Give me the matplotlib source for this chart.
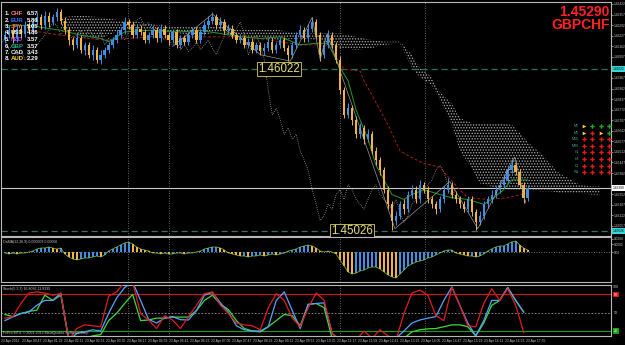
import matplotlib
matplotlib.use("Agg")
import matplotlib.pyplot as plt
import numpy as np

# ---- GBPCHF candles (one entry per bar) ----
first_open = 1.4620
closes = [1.4623, 1.4626, 1.4621, 1.4627, 1.4624, 1.4629, 1.4626, 1.4631, 1.4634, 1.4629,
          1.4635, 1.4631, 1.4634, 1.4637, 1.4632, 1.4626, 1.4620, 1.4617, 1.4621, 1.4614,
          1.4617, 1.4611, 1.4614, 1.4608, 1.4611, 1.4614, 1.4617, 1.4620, 1.4623, 1.4626,
          1.4631, 1.4629, 1.4623, 1.4627, 1.4625, 1.4620, 1.4623, 1.4626, 1.4621, 1.4627,
          1.4623, 1.4620, 1.4625, 1.4617, 1.4621, 1.4619, 1.4623, 1.4626, 1.4620, 1.4625,
          1.4629, 1.4632, 1.4634, 1.4629, 1.4631, 1.4626, 1.4627, 1.4623, 1.4620, 1.4621,
          1.4617, 1.4619, 1.4614, 1.4617, 1.4613, 1.4615, 1.4619, 1.4614, 1.4617, 1.4620,
          1.4615, 1.4611, 1.4617, 1.4623, 1.4626, 1.4621, 1.4627, 1.4631, 1.4623, 1.4611,
          1.4617, 1.4623, 1.4617, 1.4608, 1.4589, 1.4574, 1.4578, 1.4571, 1.4562, 1.4566,
          1.4559, 1.4562, 1.4552, 1.4546, 1.4540, 1.4528, 1.4519, 1.4509, 1.4512, 1.4519,
          1.4516, 1.4525, 1.4528, 1.4522, 1.4531, 1.4528, 1.4522, 1.4519, 1.4516, 1.4522,
          1.4528, 1.4531, 1.4525, 1.4522, 1.4519, 1.4516, 1.4522, 1.4514, 1.4508, 1.4512,
          1.4519, 1.4522, 1.4525, 1.4528, 1.4531, 1.4534, 1.4540, 1.4543, 1.4539, 1.4531,
          1.4523, 1.4529]
highs = [1.4626, 1.4629, 1.4628, 1.4630, 1.4629, 1.4632, 1.4631, 1.4633, 1.4637, 1.4636,
         1.4638, 1.4637, 1.4636, 1.4640, 1.4639, 1.4634, 1.4628, 1.4622, 1.4624, 1.4623,
         1.4619, 1.4619, 1.4617, 1.4616, 1.4614, 1.4616, 1.4619, 1.4622, 1.4626, 1.4628,
         1.4634, 1.4633, 1.4631, 1.4629, 1.4629, 1.4627, 1.4625, 1.4629, 1.4628, 1.4630,
         1.4629, 1.4625, 1.4627, 1.4627, 1.4623, 1.4623, 1.4625, 1.4628, 1.4628, 1.4627,
         1.4632, 1.4635, 1.4637, 1.4636, 1.4634, 1.4633, 1.4630, 1.4629, 1.4625, 1.4624,
         1.4623, 1.4621, 1.4621, 1.4619, 1.4619, 1.4618, 1.4621, 1.4621, 1.4619, 1.4622,
         1.4622, 1.4617, 1.4619, 1.4625, 1.4629, 1.4628, 1.4630, 1.4634, 1.4633, 1.4625,
         1.4620, 1.4626, 1.4625, 1.4619, 1.4610, 1.4591, 1.4581, 1.4580, 1.4573, 1.4569,
         1.4568, 1.4565, 1.4564, 1.4554, 1.4548, 1.4542, 1.4530, 1.4521, 1.4515, 1.4521,
         1.4522, 1.4527, 1.4531, 1.4530, 1.4534, 1.4533, 1.4530, 1.4524, 1.4521, 1.4524,
         1.4530, 1.4535, 1.4533, 1.4527, 1.4524, 1.4521, 1.4524, 1.4524, 1.4516, 1.4515,
         1.4521, 1.4524, 1.4528, 1.4530, 1.4534, 1.4537, 1.4543, 1.4547, 1.4545, 1.4541,
         1.4533, 1.4531]
lows = [1.4618, 1.4621, 1.4618, 1.4619, 1.4621, 1.4622, 1.4624, 1.4624, 1.4629, 1.4627,
        1.4627, 1.4628, 1.4629, 1.4632, 1.4630, 1.4624, 1.4617, 1.4614, 1.4615, 1.4612,
        1.4611, 1.4609, 1.4608, 1.4606, 1.4605, 1.4609, 1.4612, 1.4615, 1.4618, 1.4621,
        1.4624, 1.4627, 1.4621, 1.4621, 1.4623, 1.4618, 1.4618, 1.4621, 1.4619, 1.4619,
        1.4621, 1.4617, 1.4618, 1.4615, 1.4615, 1.4617, 1.4617, 1.4621, 1.4618, 1.4618,
        1.4623, 1.4627, 1.4630, 1.4627, 1.4627, 1.4624, 1.4624, 1.4621, 1.4618, 1.4618,
        1.4615, 1.4615, 1.4612, 1.4612, 1.4611, 1.4611, 1.4613, 1.4612, 1.4612, 1.4615,
        1.4613, 1.4607, 1.4609, 1.4615, 1.4621, 1.4619, 1.4619, 1.4625, 1.4621, 1.4607,
        1.4609, 1.4615, 1.4615, 1.4606, 1.4587, 1.4572, 1.4572, 1.4568, 1.4560, 1.4560,
        1.4556, 1.4557, 1.4550, 1.4543, 1.4537, 1.4526, 1.4516, 1.4503, 1.4506, 1.4510,
        1.4513, 1.4514, 1.4523, 1.4520, 1.4520, 1.4526, 1.4520, 1.4517, 1.4513, 1.4514,
        1.4520, 1.4526, 1.4523, 1.4520, 1.4517, 1.4514, 1.4514, 1.4512, 1.4503, 1.4506,
        1.4510, 1.4517, 1.4520, 1.4523, 1.4526, 1.4529, 1.4532, 1.4538, 1.4537, 1.4529,
        1.4520, 1.4521]

# ---- Ichimoku-style lines (bar index, price) ----
cloud_bars = [14, 19, 24, 29, 34, 39, 44, 49, 54, 59, 64, 69, 74, 79, 84, 88, 92, 95, 99,
              102, 104, 107, 109, 112, 114, 117, 119, 123, 127, 129, 132, 134, 137, 139,
              142, 144, 147, 149]
cloud_top = [1.4634, 1.4635, 1.4634, 1.4632, 1.4631, 1.4629, 1.4628, 1.4628, 1.4629, 1.4626,
             1.4627, 1.4626, 1.4624, 1.4624, 1.4624, 1.4622, 1.4620, 1.4619, 1.4619, 1.4611,
             1.4603, 1.4597, 1.4588, 1.4581, 1.4572, 1.4569, 1.4569, 1.4569, 1.4568, 1.4563,
             1.4555, 1.4551, 1.4543, 1.4538, 1.4534, 1.4531, 1.4530, 1.4530]
cloud_bot = [1.4627, 1.4623, 1.4621, 1.4626, 1.4627, 1.4625, 1.4624, 1.4623, 1.4625, 1.4622,
             1.4621, 1.4620, 1.4621, 1.4620, 1.4615, 1.4614, 1.4615, 1.4617, 1.4618, 1.4603,
             1.4597, 1.4592, 1.4583, 1.4568, 1.4552, 1.4541, 1.4532, 1.4529, 1.4528, 1.4528,
             1.4528, 1.4527, 1.4527, 1.4526, 1.4526, 1.4526, 1.4525, 1.4525]
green_bars = [0, 6, 14, 19, 24, 26, 30, 36, 44, 49, 54, 59, 64, 69, 74, 78, 81, 84, 86, 88,
              91, 93, 95, 97, 100, 102, 105, 109, 112, 116, 120, 122, 125, 127, 131]
green_line = [1.4629, 1.4629, 1.4626, 1.4623, 1.4621, 1.4619, 1.4625, 1.4626, 1.4625, 1.4626,
              1.4624, 1.4622, 1.4621, 1.4622, 1.4617, 1.4618, 1.4618, 1.4603, 1.4595, 1.4577,
              1.4559, 1.4543, 1.4534, 1.4525, 1.4522, 1.4525, 1.4528, 1.4525, 1.4523, 1.4522,
              1.4519, 1.4522, 1.4528, 1.4534, 1.4534]
red_bars = [6, 14, 21, 26, 36, 49, 61, 74, 81, 85, 89, 90, 94, 96, 99, 101, 105, 109, 111,
            114, 116, 121, 126, 131]
red_line = [1.4626, 1.4623, 1.4621, 1.4620, 1.4622, 1.4622, 1.4622, 1.4617, 1.4617, 1.4602,
            1.4601, 1.4595, 1.4577, 1.4568, 1.4552, 1.4549, 1.4544, 1.4542, 1.4536, 1.4528,
            1.4523, 1.4522, 1.4523, 1.4526]
chikou_shift = 18
zz_bars = [42, 52, 64, 71.5, 77, 79, 80.75, 97.75, 111.5, 118.5, 127.75, 130.5]
zz_price = [1.4616, 1.4636, 1.4611, 1.4607, 1.4634, 1.4608,
            1.4624, 1.4504, 1.4533, 1.4504, 1.4548, 1.4520]
level_hi, level_lo, last_price = 1.46022, 1.45026, 1.45290
separators = [30.75, 41, 84, 105.25]

# ---- OsMA histogram, in points (1e-5) ----
osma_pts = [-3, -6, -3, -6, -3, -3, 0, 3,
            9, 12, 12, 15, 12, 9, 12,
            -6, -15, -21, -24, -21, -18, -18, -15, -12, -15, -9,
            3, 9, 15, 21, 27, 30, 24, 15, 9, 6, 3,
            -3, -3, -6, -3, -6, -6, -3, -3, -6, -3, -3, 0, 3,
            9, 12, 15, 15, 12, 6,
            -3, -6, -9, -12, -12, -15, -12, -12, -9, -12, -9, -6, -9, -6, -3,
            3, 6, 9, 15, 18, 21, 18, 12,
            3, 0, 3, 0, -6,
            -24, -42, -60, -66, -63, -57, -54, -48, -45, -45, -51, -60, -69, -75, -78,
            -66, -54, -42, -36, -30, -27, -24, -18, -15, -9,
            -3, 3, 6, 6,
            -3, -6, -9, -12, -12, -15, -12, -6,
            3, 9, 15, 18, 18, 24, 30, 33, 21, 12, 6]

# ---- Stochastic, sampled every second bar ----
stoch_red = [41, 43.5, 65, 82, 84, 82, 78.5, 81, 5, 24, 30, 28.5, 27, 77, 84, 100, 100, 48.5,
             38, 24, 45, 38, 24, 43.5, 62, 81, 84, 62, 48.5, 33, 30, 28.5, 22, 58, 81, 70,
             41, 27, 58, 82, 70, 16, 5, 8, 5, 20, 8, 22, 12, 5, 48.5, 82, 87, 78.5, 45, 37,
             91, 62, 28.5, 27, 65, 89, 70, 89, 62, 18]
stoch_blue = [37, 43, 48.5, 51, 62, 70, 70, 82, 5, 16, 18.5, 22, 20, 49, 74, 91, 100, 70,
              39, 33, 41, 43.5, 38.5, 38, 53.5, 78.5, 83, 66, 51, 28.5, 22, 20, 20, 27, 70,
              84, 53.5, 24, 63.5, 65, 66, 16, 5, 5, 5, 5, 5, 5, 5, 8, 20, 33, 38, 41, 43.5,
              70, 92, 62, 33, 12, 37, 70, 70, 91, 70, 51]
stoch_green = [47, 43.5, 48.5, 52, 54, 78.5, 70, 78.5, 5, 8, 8, 12, 14, 37, 49, 65, 80, 37,
               38, 41, 41, 42.7, 42.7, 42.7, 53.5, 70, 78.5, 63.5, 55, 37, 24, 20, 18.5, 27,
               37, 47, 45, 28.5, 63.5, 65, 58, 8, 5, 5, 5, 5, 5, 5, 5, 5, 8, 18.5, 22, 23.5,
               24, 27, 30, 30, 27, 12, 33, 62, 70, 91, 70, 51]

# ---- texts ----
strength_rank = ["CHF", "EUR", "JPY", "USD", "NZD", "GBP", "CAD", "AUD"]
strength_vals = ["6.57", "5.86", "5.05", "4.86", "3.57", "3.57", "3.43", "2.29"]
strength_cols = ["#ff7a7a", "#3f6fff", "#ff6a2a", "#e8e8e8", "#b050ff", "#1fa884", "#e8e8e8", "#ffd23a"]
time_labels = ["23 Apr 2012", "23 Apr 00:47", "23 Apr 01:29", "23 Apr 02:11", "23 Apr 02:53",
               "23 Apr 03:35", "23 Apr 04:17", "23 Apr 04:59", "23 Apr 05:41", "23 Apr 06:23",
               "23 Apr 07:05", "23 Apr 07:47", "23 Apr 08:29", "23 Apr 09:11", "23 Apr 09:53",
               "23 Apr 10:35", "23 Apr 11:17", "23 Apr 11:59", "23 Apr 12:41", "23 Apr 13:23",
               "23 Apr 14:05", "23 Apr 14:47", "23 Apr 15:29", "23 Apr 16:11", "23 Apr 16:53",
               "23 Apr 17:35"]
tf_labels = ["M1", "M5", "M15", "M30", "H1", "H4", "D1", "W1"]
# 0 = red down, 1 = green up, 2 = yellow flat
tf_signals = [[2, 1, 1, 1],
              [2, 0, 2, 1],
              [0, 0, 0, 0],
              [0, 0, 0, 0],
              [0, 0, 0, 0],
              [0, 0, 0, 0],
              [0, 0, 0, 0],
              [0, 0, 0, 0]]

UP = "#3d8fe6"
DOWN = "#f2b441"
FRAME = "#b8b8b8"
W, H = 625, 345
PMAX, PMIN = 1.46434, 1.44995

plt.rcParams["font.family"] = ["Liberation Sans", "DejaVu Sans"]
plt.rcParams["hatch.linewidth"] = 0.6
plt.rcParams["hatch.color"] = "#b4b4b4"

fig = plt.figure(figsize=(W / 100, H / 100), dpi=100, facecolor="black")


def px_axes(top, bottom):
    a = fig.add_axes([0.0015, (H - bottom) / H, 610.5 / W, (bottom - top) / H])
    a.set_facecolor("black")
    for s in a.spines.values():
        s.set_color(FRAME)
        s.set_linewidth(0.8)
    a.set_xlim(-1, 152)
    a.set_xticks([])
    a.yaxis.tick_right()
    a.tick_params(axis="y", colors="#c8c8c8", labelsize=2.3, length=1.2, width=0.5, pad=0.4)
    for b in separators:
        a.axvline(b, color="#8a8a8a", ls=(0, (1, 2)), lw=0.6, zorder=1)
    return a


# ===== main price panel =====
ax = px_axes(2, 236)
ax.set_ylim(PMIN, PMAX)
yt = np.arange(1.45057, 1.4643, 0.00065)
yt = yt[(np.abs(yt - level_hi) > 0.0003) & (np.abs(yt - level_lo) > 0.0003)
        & (np.abs(yt - last_price) > 0.0003)]
ax.set_yticks(yt)
ax.set_yticklabels([f"{v:.5f}" for v in yt])

o = np.array([first_open] + closes[:-1])
c = np.array(closes)
idx = np.arange(len(c))
col = np.where(c >= o, UP, DOWN)

ax.fill_between(cloud_bars, cloud_top, cloud_bot, facecolor="none", edgecolor="#b4b4b4",
                hatch="......", lw=0, zorder=1)
ax.plot(idx - chikou_shift, c, color="#9c9c9c", ls=(0, (1, 1.5)), lw=0.6, zorder=2)
ax.plot(red_bars, red_line, color="#a31c1c", ls=(0, (3, 2)), lw=0.7, zorder=3)
ax.plot(green_bars, green_line, color="#239a23", lw=0.7, zorder=3)

ax.vlines(idx, lows, highs, colors=col, lw=0.7, zorder=4)
ax.bar(idx, np.maximum(np.abs(c - o), 0.00004), bottom=np.minimum(o, c), width=0.6,
       color=col, lw=0, zorder=5)
ax.plot(zz_bars, zz_price, color="#a8a8a8", lw=0.45, zorder=6)

for lv in (level_hi, level_lo):
    ax.axhline(lv, color="#2f7262", ls=(0, (5, 3)), lw=0.9, zorder=2)
ax.axhline(last_price, color="#c8c8c8", lw=0.8, zorder=2)
ax.text(63.5, level_hi, f"{level_hi:.5f}", color="#e6e07a", fontsize=8.3, va="center",
        ha="left", zorder=8, bbox=dict(facecolor="black", edgecolor="#bdb34a", pad=0.8, lw=0.7))
ax.text(81.8, level_lo, f"{level_lo:.5f}", color="#e6e07a", fontsize=8.3, va="center",
        ha="left", zorder=8, bbox=dict(facecolor="black", edgecolor="#bdb34a", pad=0.8, lw=0.7))

# ===== OsMA panel =====
ax2 = px_axes(237, 282)
ax2.set_ylim(-90, 45)
h = np.array(osma_pts)
prev = np.concatenate([[h[0]], h[:-1]])
ax2.bar(idx, h, width=0.5, color=np.where(h >= prev, UP, DOWN), lw=0, zorder=3)
ax2.plot(idx, h, color="#8fc43a", lw=0.5, zorder=4)
ax2.axhline(0, color="#9a9a9a", ls=(0, (1, 2)), lw=0.6, zorder=2)
ax2.set_yticks([40, 24, 0])
ax2.set_yticklabels(["0.0004", "0.0002", "0.00"])

# ===== Stochastic panel =====
ax3 = px_axes(285, 336)
ax3.set_ylim(11.8, 95.2)
sx = np.arange(0, len(c), 2)
ax3.axhline(80, color="#d01818", lw=0.8, zorder=2)
ax3.axhline(20, color="#18a018", lw=0.8, zorder=2)
ax3.axhline(50, color="#9a9a9a", ls=(0, (2, 2)), lw=0.6, zorder=2)
ax3.plot(sx, stoch_green, color="#3ddc3d", lw=0.9, zorder=3)
ax3.plot(sx, stoch_blue, color="#5aa0ff", lw=0.9, zorder=4)
ax3.plot(sx, stoch_red, color="#e01c1c", lw=0.9, zorder=5)
ax3.set_yticks([])

# ===== overlay with pixel coordinates for texts =====
ov = fig.add_axes([0, 0, 1, 1])
ov.set_xlim(0, W)
ov.set_ylim(H, 0)
ov.axis("off")
ov.patch.set_alpha(0)

for i, (cur, val, cc) in enumerate(zip(strength_rank, strength_vals, strength_cols)):
    y = 13.5 + 6.5 * i
    ov.text(5, y, f"{i + 1}.", color="white", fontsize=4.3, weight="bold", va="center")
    ov.text(11, y, cur, color=cc, fontsize=4.3, weight="bold", va="center")
    ov.text(27, y, val, color="white", fontsize=4.3, weight="bold", va="center")

ov.text(610, 12, f"{last_price:.5f}", color="#ff2222", fontsize=10, weight="bold",
        ha="right", va="center")
ov.text(610, 25, "GBPCHF", color="#ff2222", fontsize=10, weight="bold",
        ha="right", va="center")

for r, (lab, sig) in enumerate(zip(tf_labels, tf_signals)):
    y = 126 + 6.6 * r
    ov.text(579, y, lab, color="#3aa6a6", fontsize=2.6, ha="right", va="center")
    for k, s in enumerate(sig):
        x = 584 + 8.3 * k
        if s == 2:
            ov.plot(x, y, marker=">", color="#ffd23a", ms=2.6, mew=0)
        else:
            ov.plot(x, y, marker="P", color="#e01c1c" if s == 0 else "#1fa31f", ms=3.2, mew=0)


def price_px(p):
    return 2 + (PMAX - p) / (PMAX - PMIN) * 234


# right-side value boxes
for lv in (level_hi, level_lo):
    ov.text(612.5, price_px(lv), f"{lv:.5f}", color="black", fontsize=2.3, va="center",
            bbox=dict(facecolor="#38d6d6", edgecolor="none", pad=0.5))
ov.text(612.5, price_px(last_price), f"{last_price:.5f}", color="black", fontsize=2.3,
        va="center", bbox=dict(facecolor="white", edgecolor="none", pad=0.5))
ov.text(614, 294.5, "80", color="white", fontsize=2.6, va="center",
        bbox=dict(facecolor="#d01818", edgecolor="none", pad=0.4))
ov.text(614, 312.5, "50", color="#c8c8c8", fontsize=2.6, va="center")
ov.text(614, 331, "20", color="white", fontsize=2.6, va="center",
        bbox=dict(facecolor="#18a018", edgecolor="none", pad=0.4))
ov.text(613, 287, "100", color="#c8c8c8", fontsize=2.6, va="center")

ov.text(3, 241.5, "OsMA(12,26,9) 0.000003 0.00006", color="#c8c8c8", fontsize=2.6, va="center")
ov.text(3, 289, "Stoch(5,3,3) 16.8096 11.9335", color="#c8c8c8", fontsize=2.6, va="center")
ov.text(3, 333, "FxPro MT4, \u00a9 2001-2012 MetaQuotes Software Corp.", color="#c8c8c8",
        fontsize=2.6, va="center")

for i, t in enumerate(time_labels):
    ov.text(1 + 21 * i, 341, t, color="#c8c8c8", fontsize=2.4, va="center")

fig.savefig("out.png", dpi=100, facecolor="black")
